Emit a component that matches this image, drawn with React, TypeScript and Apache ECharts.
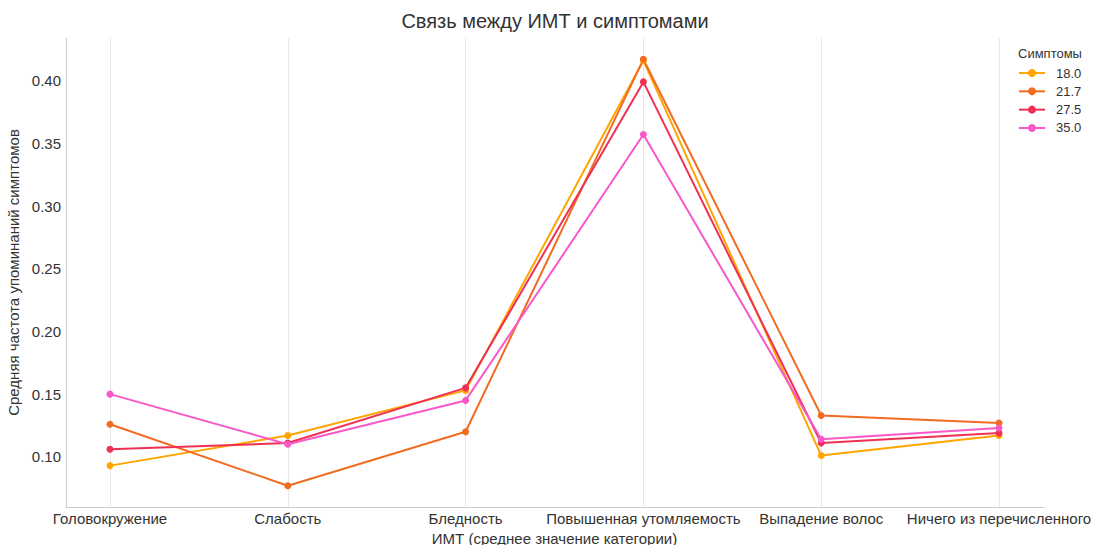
import React, { useEffect, useRef } from "react";
import * as echarts from "echarts";

const categories = [
  "Головокружение",
  "Слабость",
  "Бледность",
  "Повышенная утомляемость",
  "Выпадение волос",
  "Ничего из перечисленного",
];

const seriesNames = ["18.0", "21.7", "27.5", "35.0"];
const values18 = [0.093, 0.117, 0.153, 0.416, 0.101, 0.117];
const values217 = [0.126, 0.077, 0.12, 0.417, 0.133, 0.127];
const values275 = [0.106, 0.111, 0.155, 0.399, 0.111, 0.119];
const values35 = [0.15, 0.11, 0.145, 0.357, 0.114, 0.123];
const seriesValues = [values18, values217, values275, values35];
const seriesColors = ["#ffa500", "#f26b22", "#ee3055", "#f858c8"];

const yMin = 0.06;
const yMax = 0.434;

const FONT = "'Liberation Sans', Arial, sans-serif";

export default function App() {
  const ref = useRef<HTMLDivElement>(null);

  useEffect(() => {
    if (!ref.current) return;
    const chart = echarts.init(ref.current, undefined, { renderer: "svg" });
    const option: any = {
      animation: false,
      backgroundColor: "#ffffff",
      textStyle: { fontFamily: FONT },
      title: [
        {
          text: "Связь между ИМТ и симптомами",
          left: 555,
          top: 11,
          textAlign: "center",
          padding: 0,
          textStyle: { fontSize: 20, fontWeight: "normal", color: "#333", fontFamily: FONT },
        },
        {
          text: "Симптомы",
          left: 1018,
          top: 47,
          padding: 0,
          textStyle: { fontSize: 13, fontWeight: "normal", color: "#333", fontFamily: FONT },
        },
      ],
      legend: {
        orient: "vertical",
        left: 1018,
        top: 66,
        padding: 0,
        itemWidth: 26,
        itemHeight: 10,
        itemGap: 4.33,
        data: seriesNames,
        textStyle: { fontSize: 13, color: "#333", fontFamily: FONT, padding: [0, 0, 0, 6], lineHeight: 14 },
      },
      grid: [
        { left: 66, right: 54, top: 38, bottom: 38, outerBoundsMode: "none", containLabel: false },
        { left: 110, right: 99, top: 38, bottom: 38, outerBoundsMode: "none", containLabel: false },
      ],
      xAxis: [
        {
          type: "value",
          gridIndex: 0,
          min: 0,
          max: 1,
          axisLine: { show: true, lineStyle: { color: "#cccccc", width: 1 } },
          axisTick: { show: false },
          axisLabel: { show: false },
          splitLine: { show: false },
        },
        {
          type: "category",
          gridIndex: 1,
          data: categories,
          boundaryGap: false,
          name: "ИМТ (среднее значение категории)",
          nameLocation: "middle",
          nameGap: 22,
          nameTextStyle: { fontSize: 15, color: "#333", fontFamily: FONT },
          axisLine: { show: false },
          axisTick: { show: false },
          axisLabel: { fontSize: 15, color: "#333", margin: 4, interval: 0, fontFamily: FONT },
          splitLine: { show: true, lineStyle: { color: "#e8e8e8", width: 1 } },
        },
      ],
      yAxis: [
        {
          type: "value",
          gridIndex: 0,
          min: yMin,
          max: yMax,
          splitNumber: 7,
          name: "Средняя частота упоминаний симптомов",
          nameLocation: "middle",
          nameGap: 42,
          nameTextStyle: { fontSize: 15, color: "#333", fontFamily: FONT },
          axisLine: { show: true, lineStyle: { color: "#cccccc", width: 1 } },
          axisTick: { show: false },
          axisLabel: {
            fontSize: 15,
            color: "#333",
            margin: 5,
            showMinLabel: false,
            showMaxLabel: false,
            fontFamily: FONT,
            formatter: (v: number) => v.toFixed(2),
          },
          splitLine: { show: false },
        },
        {
          type: "value",
          gridIndex: 1,
          min: yMin,
          max: yMax,
          show: false,
          splitLine: { show: false },
        },
      ],
      series: seriesNames.map((name, i) => ({
        name,
        type: "line",
        xAxisIndex: 1,
        yAxisIndex: 1,
        data: seriesValues[i],
        symbol: "circle",
        symbolSize: 7,
        color: seriesColors[i],
        lineStyle: { width: 2, color: seriesColors[i] },
        itemStyle: { color: seriesColors[i] },
      })),
    };
    chart.setOption(option);
    return () => chart.dispose();
  }, []);

  return (
    <div
      ref={ref}
      style={{ position: "fixed", left: 0, top: 0, width: 1098, height: 545 }}
    />
  );
}
